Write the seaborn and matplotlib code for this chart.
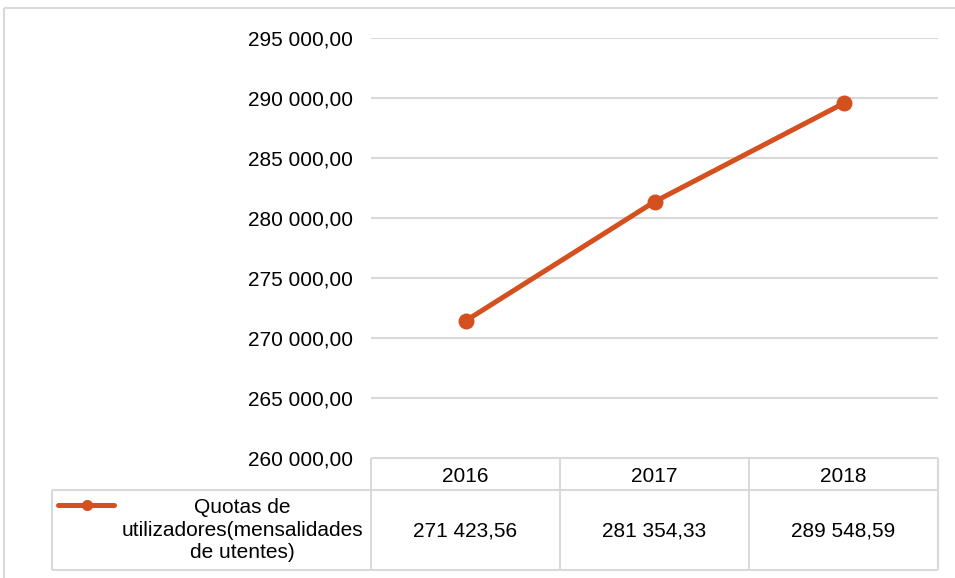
import matplotlib
matplotlib.use("Agg")
import matplotlib.pyplot as plt
from matplotlib.lines import Line2D
from matplotlib.ticker import FuncFormatter, MultipleLocator
import seaborn as sns
import pandas as pd

# ---- data ----
years = ["2016", "2017", "2018"]
values = [271423.56, 281354.33, 289548.59]
series_label = "Quotas de\nutilizadores(mensalidades\nde utentes)"

sns.set_style("white")
plt.rcParams['font.family'] = ['Liberation Sans', 'DejaVu Sans']

W, H = 955, 578
COLOR = '#D5501F'
GRID = '#D9D9D9'
FS = 15

def fmt(v, pos=None):
    return f"{v:,.2f}".replace(',', ' ').replace('.', ',')

fig = plt.figure(figsize=(W / 100, H / 100), dpi=100)

def fx(x):
    return x / W

def fy(y):
    return 1 - y / H

ax_l, ax_r, ax_t, ax_b = 371, 938, 38, 458
ax = fig.add_axes([fx(ax_l), fy(ax_b), (ax_r - ax_l) / W, (ax_b - ax_t) / H])

df = pd.DataFrame({"year": years, "value": values})
sns.lineplot(data=df, x="year", y="value", ax=ax, color=COLOR, linewidth=3.6,
             marker='o', markersize=11.5, markeredgewidth=0, sort=False)

ax.set_xlim(-0.5, len(years) - 0.5)
ax.set_ylim(260000, 295000)
ax.yaxis.set_major_locator(MultipleLocator(5000))
ax.yaxis.set_major_formatter(FuncFormatter(fmt))
ax.set_xticks([])
ax.set_xlabel("")
ax.set_ylabel("")
ax.tick_params(axis='y', length=0, pad=13, labelsize=FS, labelcolor='#000000')
ax.grid(axis='y', color=GRID, linewidth=1.5)
ax.set_axisbelow(True)
for s in ['left', 'right', 'top', 'bottom']:
    ax.spines[s].set_visible(False)

# ---- outer chart frame ----
def line_px(x0, y0, x1, y1, color=GRID, lw=1.5):
    fig.add_artist(Line2D([fx(x0), fx(x1)], [fy(y0), fy(y1)], color=color,
                          linewidth=lw, solid_capstyle='butt'))

line_px(4, 8, W + 2, 8)
line_px(4, 8, 4, H + 2)

# ---- data table ----
col_w = (ax_r - ax_l) / len(years)
cols = [ax_l + i * col_w for i in range(len(years) + 1)]
hdr_top, hdr_bot, tbl_bot, tbl_left = ax_b, 490, 570, 52

line_px(ax_l, hdr_top, ax_r, hdr_top)
line_px(tbl_left, hdr_bot, ax_r, hdr_bot)
line_px(tbl_left, tbl_bot, ax_r, tbl_bot)
line_px(tbl_left, hdr_bot, tbl_left, tbl_bot)
for c in cols:
    line_px(c, hdr_top, c, tbl_bot)

for i, (yr, v) in enumerate(zip(years, values)):
    cx = (cols[i] + cols[i + 1]) / 2
    fig.text(fx(cx), fy(476), yr, ha='center', va='center',
             fontsize=FS, color='#000000')
    fig.text(fx(cx), fy(531), fmt(v), ha='center', va='center',
             fontsize=FS, color='#000000')

# legend key in table
fig.add_artist(Line2D([fx(58), fx(114)], [fy(505), fy(505)], color=COLOR,
                      linewidth=3.6, solid_capstyle='round'))
fig.add_artist(Line2D([fx(87)], [fy(505)], color=COLOR, marker='o',
                      markersize=8, markeredgewidth=0))
fig.text(fx(242), fy(530), series_label, ha='center', va='center',
         fontsize=FS, color='#000000', linespacing=1.22)

fig.savefig("out.png", dpi=100, facecolor='white')
